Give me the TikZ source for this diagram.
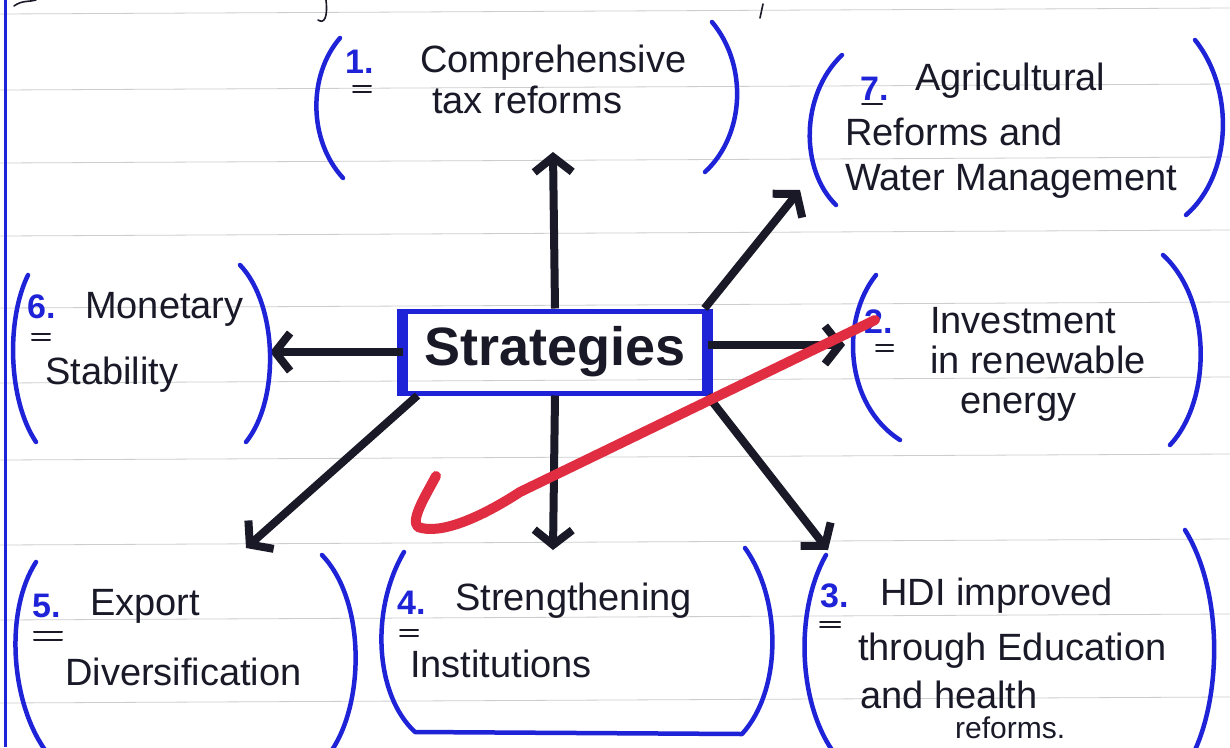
\documentclass[tikz,border=0pt]{standalone}
\usepackage{fontspec}
\setmainfont{Liberation Sans}
\usetikzlibrary{arrows.meta}
\definecolor{pen}{RGB}{30,35,215}
\definecolor{ink}{RGB}{25,25,40}
\definecolor{checkred}{RGB}{225,45,65}
\definecolor{rulec}{RGB}{205,205,205}
\begin{document}
\begin{tikzpicture}[x=1pt,y=-1pt,
  txt/.style={anchor=base west, inner sep=0pt, font=\fontsize{38}{44}\selectfont, text=ink},
  num/.style={anchor=base west, inner sep=0pt, font=\fontsize{34}{40}\selectfont\bfseries, text=pen},
  paren/.style={draw=pen, line width=4.5pt, line cap=round, line join=round},
  arr/.style={draw=ink, line width=8pt, -{Straight Barb[length=15pt,width=38pt]}},
  rl/.style={draw=rulec, line width=0.8pt},
  eq/.style={draw=ink, line width=2pt, line cap=round}]
\useasboundingbox (0,0) rectangle (1230,747);
\fill[white] (0,0) rectangle (1230,747);
% ruled paper
\foreach \y in {14,90,163,236,308,383,460,545,620,703}
  \draw[rl] (0,\y) -- (1230,\y-6);
\draw[pen, line width=3pt] (5,0) -- (5,747);
% cut-off strokes at the top
\draw[ink, line width=1.6pt, line cap=round] (326,0) .. controls (328,18) and (324,24) .. (318,20);
\draw[ink, line width=1.6pt, line cap=round] (763,4) -- (760,18);
\draw[ink, line width=1.6pt, line cap=round] (14,6) .. controls (22,0) and (30,2) .. (36,0);

% central node
\node[draw=pen, line width=5pt, minimum width=300pt, minimum height=82pt, inner sep=0pt,
      font=\fontsize{54}{60}\selectfont\bfseries, text=ink] (s) at (555,352) {Strategies};
\draw[pen, line width=11pt] (s.north west) -- (s.south west);
\draw[pen, line width=11pt] (s.north east) -- (s.south east);

% arrow ends
\coordinate (e1) at (553,152);
\coordinate (e7) at (800,190);
\coordinate (e6) at (270,352);
\coordinate (e2) at (845,345);
\coordinate (e5) at (246,548);
\coordinate (e4) at (553,550);
\coordinate (e3) at (828,550);
\draw[arr] (s.north) -- (e1);
\draw[arr] ([xshift=-3pt]s.north east) -- (e7);
\draw[arr] (s.west) -- (e6);
\draw[arr] ([yshift=7pt]s.east) -- (e2);
\draw[arr] ([xshift=15pt]s.south west) -- (e5);
\draw[arr] (s.south) -- (e4);
\draw[arr] (s.south east) -- (e3);

% parentheses
\draw[paren] (340,38) .. controls (308,75) and (308,140) .. (343,178);
\draw[paren] (712,22) .. controls (748,65) and (745,135) .. (705,172);
\draw[paren] (842,55) .. controls (800,95) and (800,170) .. (836,205);
\draw[paren] (1195,40) .. controls (1235,90) and (1232,175) .. (1186,215);
\draw[paren] (28,275) .. controls (6,320) and (8,400) .. (36,442);
\draw[paren] (240,265) .. controls (278,305) and (280,400) .. (246,442);
\draw[paren] (876,275) .. controls (840,320) and (845,405) .. (900,440);
\draw[paren] (1163,255) .. controls (1212,300) and (1212,400) .. (1170,445);
\draw[paren] (36,562) .. controls (5,610) and (10,700) .. (45,750);
\draw[paren] (322,555) .. controls (365,600) and (365,700) .. (332,750);
\draw[paren] (404,552) .. controls (370,610) and (375,695) .. (415,732)
  -- (742,734) .. controls (782,690) and (782,600) .. (745,548);
\draw[paren] (826,555) .. controls (795,610) and (798,700) .. (832,750);
\draw[paren] (1185,530) .. controls (1222,590) and (1222,690) .. (1195,750);

% item 1
\node[num] (n1) at (345,73) {1.};
\draw[eq] (353,86) -- (371,86) (353,92) -- (371,92);
\node[txt] (t1a) at (420,72) {Comprehensive};
\node[txt] (t1b) at (432,113) {tax reforms};
% item 7
\node[num] (n7) at (860,100) {7.};
\draw[eq] (862,104) -- (882,104);
\node[txt] (t7a) at (915,90) {Agricultural};
\node[txt] (t7b) at (845,145) {Reforms and};
\node[txt] (t7c) at (845,190) {Water Management};
% item 6
\node[num] (n6) at (27,318) {6.};
\draw[eq] (32,334) -- (50,334) (32,340) -- (50,340);
\node[txt] (t6a) at (85,318) {Monetary};
\node[txt] (t6b) at (45,384) {Stability};
% item 2
\node[num] (n2) at (864,333) {2.};
\draw[eq] (876,345) -- (893,345) (876,351) -- (893,351);
\node[txt] (t2a) at (930,333) {Investment};
\node[txt] (t2b) at (930,373) {in renewable};
\node[txt] (t2c) at (960,413) {energy};
% item 5
\node[num] (n5) at (32,617) {5.};
\draw[eq] (34,632) -- (62,632) (34,640) -- (62,640);
\node[txt] (t5a) at (90,615) {Export};
\node[txt] (t5b) at (65,685) {Diversification};
% item 4
\node[num] (n4) at (397,614) {4.};
\draw[eq] (400,630) -- (418,630) (400,636) -- (418,636);
\node[txt] (t4a) at (455,610) {Strengthening};
\node[txt] (t4b) at (410,677) {Institutions};
% item 3
\node[num] (n3) at (820,607) {3.};
\draw[eq] (820,622) -- (840,622) (820,627) -- (840,627);
\node[txt] (t3a) at (880,605) {HDI improved};
\node[txt] (t3b) at (858,660) {through Education};
\node[txt] (t3c) at (860,708) {and health};
\node[txt, font=\fontsize{30}{36}\selectfont] (t3d) at (955,738) {reforms.};

% red check mark
\coordinate (c1) at (436,476);
\coordinate (c2) at (418,527);
\coordinate (c3) at (875,320);
\draw[checkred, line width=10pt, line cap=round, line join=round]
  (c1) .. controls (426,495) and (410,520) .. (c2)
  .. controls (440,535) and (480,518) .. (520,492) -- (c3);
\end{tikzpicture}
\end{document}
